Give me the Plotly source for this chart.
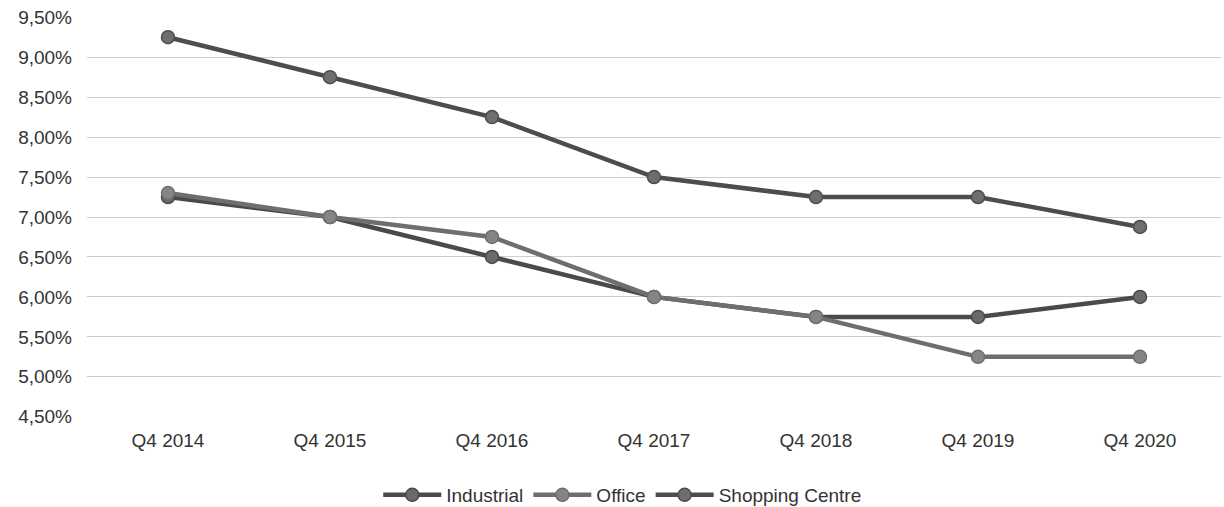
import plotly.graph_objects as go

categories = ["Q4 2014", "Q4 2015", "Q4 2016", "Q4 2017", "Q4 2018", "Q4 2019", "Q4 2020"]
industrial = [7.25, 7.00, 6.50, 6.00, 5.75, 5.75, 6.00]
office = [7.30, 7.00, 6.75, 6.00, 5.75, 5.25, 5.25]
shopping_centre = [9.25, 8.75, 8.25, 7.50, 7.25, 7.25, 6.875]
tick_values = [4.5, 5.0, 5.5, 6.0, 6.5, 7.0, 7.5, 8.0, 8.5, 9.0, 9.5]
tick_labels = ["4,50%", "5,00%", "5,50%", "6,00%", "6,50%", "7,00%", "7,50%", "8,00%", "8,50%", "9,00%", "9,50%"]

series = [
    ("Industrial", industrial, "#4a4a4a", "#6a6a6a"),
    ("Office", office, "#6e6e6e", "#858585"),
    ("Shopping Centre", shopping_centre, "#4d4d4d", "#6e6e6e"),
]

fig = go.Figure()
for name, vals, lc, mc in series:
    fig.add_trace(go.Scatter(
        x=categories, y=vals, name=name, mode="lines+markers",
        line=dict(color=lc, width=4.5),
        marker=dict(size=13, color=mc, line=dict(color=lc, width=1.5)),
    ))

fig.update_layout(
    width=1224, height=507,
    margin=dict(l=87, r=3, t=17, b=90, autoexpand=False),
    paper_bgcolor="white", plot_bgcolor="white",
    font=dict(family="Liberation Sans, Arial, sans-serif", size=19, color="#333333"),
    legend=dict(orientation="h", x=0.472, xanchor="center", y=-0.195, yanchor="middle",
                font=dict(size=19, color="#333333"), itemwidth=58, traceorder="normal",
                tracegroupgap=0),
    showlegend=True,
)
fig.update_xaxes(type="category", range=[-0.5, 6.5], showgrid=False, zeroline=False,
                 showline=False, ticks="", ticklabelstandoff=10, automargin=False,
                 tickfont=dict(size=19, color="#333333"))
fig.update_yaxes(range=[4.497, 9.503], tickvals=tick_values, ticktext=tick_labels,
                 showgrid=True, gridcolor="#cdcdcd", gridwidth=1.2, zeroline=False,
                 showline=False, ticks="", ticklabelstandoff=14, automargin=False,
                 tickfont=dict(size=19, color="#333333"))

fig.write_html("out.html")
